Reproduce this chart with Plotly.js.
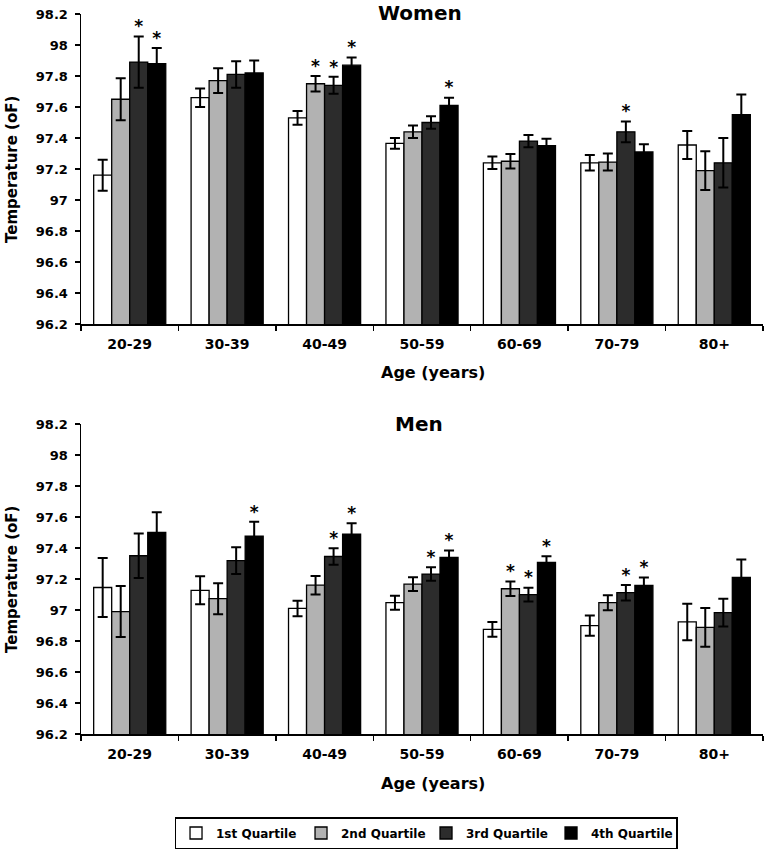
<!DOCTYPE html>
<html>
<head>
<meta charset="utf-8">
<script src="https://cdn.plot.ly/plotly-3.0.1.min.js"></script>
<style>
  html, body { margin: 0; padding: 0; background: #ffffff; }
  #chart { width: 764px; height: 853px; }
</style>
</head>
<body>
<div id="chart"></div>
<script>
// ---- Data ----
var ageGroups = ['20-29', '30-39', '40-49', '50-59', '60-69', '70-79', '80+'];
var quartileNames = ['1st Quartile', '2nd Quartile', '3rd Quartile', '4th Quartile'];
var quartileColors = ['#ffffff', '#b2b2b2', '#2c2c2c', '#000000'];

var yTickVals = [96.2, 96.4, 96.6, 96.8, 97, 97.2, 97.4, 97.6, 97.8, 98, 98.2];
var yTickText = ['96.2', '96.4', '96.6', '96.8', '97', '97.2', '97.4', '97.6', '97.8', '98', '98.2'];

// Women: mean temperature (oF)
var womenQ1 = [97.16, 97.66, 97.53, 97.365, 97.24, 97.24, 97.355];
var womenQ2 = [97.65, 97.77, 97.75, 97.44, 97.25, 97.245, 97.19];
var womenQ3 = [97.89, 97.81, 97.74, 97.50, 97.38, 97.44, 97.24];
var womenQ4 = [97.88, 97.82, 97.87, 97.61, 97.35, 97.31, 97.55];
// Women: error bars (SE)
var womenErrQ1 = [0.10, 0.06, 0.045, 0.035, 0.04, 0.05, 0.09];
var womenErrQ2 = [0.135, 0.08, 0.05, 0.04, 0.047, 0.055, 0.125];
var womenErrQ3 = [0.165, 0.085, 0.055, 0.04, 0.04, 0.067, 0.16];
var womenErrQ4 = [0.10, 0.08, 0.05, 0.05, 0.045, 0.05, 0.13];
// Women: significance markers (1 = asterisk)
var womenStarQ1 = [0, 0, 0, 0, 0, 0, 0];
var womenStarQ2 = [0, 0, 1, 0, 0, 0, 0];
var womenStarQ3 = [1, 0, 1, 0, 0, 1, 0];
var womenStarQ4 = [1, 0, 1, 1, 0, 0, 0];

// Men: mean temperature (oF)
var menQ1 = [97.145, 97.127, 97.01, 97.047, 96.875, 96.899, 96.923];
var menQ2 = [96.99, 97.073, 97.16, 97.167, 97.137, 97.047, 96.888];
var menQ3 = [97.35, 97.318, 97.345, 97.232, 97.099, 97.112, 96.983];
var menQ4 = [97.50, 97.477, 97.49, 97.339, 97.307, 97.159, 97.21];
// Men: error bars (SE)
var menErrQ1 = [0.19, 0.09, 0.05, 0.045, 0.047, 0.065, 0.118];
var menErrQ2 = [0.165, 0.10, 0.06, 0.045, 0.047, 0.048, 0.125];
var menErrQ3 = [0.143, 0.086, 0.053, 0.043, 0.045, 0.05, 0.09];
var menErrQ4 = [0.13, 0.092, 0.07, 0.045, 0.04, 0.05, 0.115];
// Men: significance markers
var menStarQ1 = [0, 0, 0, 0, 0, 0, 0];
var menStarQ2 = [0, 0, 0, 0, 1, 0, 0];
var menStarQ3 = [0, 0, 1, 1, 1, 1, 0];
var menStarQ4 = [0, 1, 1, 1, 1, 1, 0];

// ---- Build traces ----
var FONT = 'DejaVu Sans';
var womenMeans = [womenQ1, womenQ2, womenQ3, womenQ4];
var womenErrs = [womenErrQ1, womenErrQ2, womenErrQ3, womenErrQ4];
var womenStars = [womenStarQ1, womenStarQ2, womenStarQ3, womenStarQ4];
var menMeans = [menQ1, menQ2, menQ3, menQ4];
var menErrs = [menErrQ1, menErrQ2, menErrQ3, menErrQ4];
var menStars = [menStarQ1, menStarQ2, menStarQ3, menStarQ4];

var traces = [];
function addPanel(means, errs, stars, xa, ya, showLegend) {
  for (var q = 0; q < 4; q++) {
    traces.push({
      type: 'bar',
      x: ageGroups,
      y: means[q],
      xaxis: xa, yaxis: ya,
      name: quartileNames[q],
      legendgroup: 'q' + q,
      showlegend: showLegend,
      offsetgroup: 'q' + q,
      marker: { color: quartileColors[q], line: { color: '#000000', width: 1.3 } },
      error_y: { type: 'data', array: errs[q], visible: true, color: '#000000', thickness: 2, width: 5 },
      hoverinfo: 'skip'
    });
  }
  for (var q2 = 0; q2 < 4; q2++) {
    var sy = means[q2].map(function (v, i) { return stars[q2][i] ? v + errs[q2][i] : null; });
    traces.push({
      type: 'scatter',
      mode: 'text',
      x: ageGroups,
      y: sy,
      xaxis: xa, yaxis: ya,
      text: sy.map(function (v) { return v === null ? '' : '*'; }),
      textposition: 'top center',
      textfont: { family: FONT, size: 17, color: '#000000', weight: 700 },
      offsetgroup: 'q' + q2,
      showlegend: false,
      hoverinfo: 'skip'
    });
  }
}
addPanel(womenMeans, womenErrs, womenStars, 'x', 'y', true);
addPanel(menMeans, menErrs, menStars, 'x2', 'y2', false);

function xAxis(anchor) {
  return {
    anchor: anchor, domain: [0, 1], type: 'category',
    range: [-0.5, 6.5],
    tickson: 'boundaries', ticks: 'outside', ticklen: 5, tickwidth: 1.5, tickcolor: '#000000',
    showline: true, linecolor: '#000000', linewidth: 1.5,
    showgrid: false, zeroline: false,
    tickfont: { family: FONT, size: 14, color: '#000000', weight: 700 },
    ticklabelstandoff: 7, fixedrange: true
  };
}
function yAxis(anchor, domain) {
  return {
    anchor: anchor, domain: domain,
    range: [96.2, 98.2],
    tickmode: 'array', tickvals: yTickVals, ticktext: yTickText,
    ticks: 'outside', ticklen: 5, tickwidth: 1.5, tickcolor: '#000000',
    showline: true, linecolor: '#000000', linewidth: 1.5,
    showgrid: false, zeroline: false,
    tickfont: { family: FONT, size: 13, color: '#000000', weight: 700 },
    ticklabelstandoff: 4, fixedrange: true
  };
}

var layout = {
  width: 764, height: 853,
  margin: { l: 81, r: 1, t: 14, b: 119 },
  paper_bgcolor: '#ffffff', plot_bgcolor: 'rgba(0,0,0,0)',
  barmode: 'group', bargap: 0.26, bargroupgap: 0,
  scattermode: 'group',
  showlegend: true,
  font: { family: FONT, color: '#000000' },
  xaxis: xAxis('y'),
  yaxis: yAxis('x', [0.5694, 1]),
  xaxis2: xAxis('y2'),
  yaxis2: yAxis('x2', [0, 0.4306]),
  legend: {
    orientation: 'h', x: 0.5059, xanchor: 'center', y: -0.1153, yanchor: 'top',
    bordercolor: '#000000', borderwidth: 1.5, bgcolor: '#ffffff',
    font: { family: FONT, size: 12, color: '#000000', weight: 700 },
    entrywidth: 80, entrywidthmode: 'pixels', traceorder: 'normal'
  },
  annotations: [
    { text: 'Women', xref: 'paper', yref: 'paper', x: 0.497, y: 1.0194, xanchor: 'center', yanchor: 'top',
      borderpad: 0, showarrow: false, font: { family: FONT, size: 20, color: '#000000', weight: 700 } },
    { text: 'Men', xref: 'paper', yref: 'paper', x: 0.4963, y: 0.4306, xanchor: 'center', yanchor: 'middle',
      showarrow: false, font: { family: FONT, size: 20, color: '#000000', weight: 700 } },
    { text: 'Age (years)', xref: 'paper', yref: 'paper', x: 0.5161, y: 0.5014, xanchor: 'center', yanchor: 'middle',
      showarrow: false, font: { family: FONT, size: 16, color: '#000000', weight: 700 } },
    { text: 'Age (years)', xref: 'paper', yref: 'paper', x: 0.5161, y: -0.0681, xanchor: 'center', yanchor: 'middle',
      showarrow: false, font: { family: FONT, size: 16, color: '#000000', weight: 700 } },
    { text: 'Temperature (oF)', xref: 'paper', yref: 'paper', x: -0.1012, y: 0.7847, xanchor: 'center', yanchor: 'middle',
      textangle: -90, showarrow: false, font: { family: FONT, size: 15, color: '#000000', weight: 700 } },
    { text: 'Temperature (oF)', xref: 'paper', yref: 'paper', x: -0.1012, y: 0.2153, xanchor: 'center', yanchor: 'middle',
      textangle: -90, showarrow: false, font: { family: FONT, size: 15, color: '#000000', weight: 700 } }
  ]
};

Plotly.newPlot('chart', traces, layout, { displayModeBar: false, staticPlot: true });
</script>
</body>
</html>
